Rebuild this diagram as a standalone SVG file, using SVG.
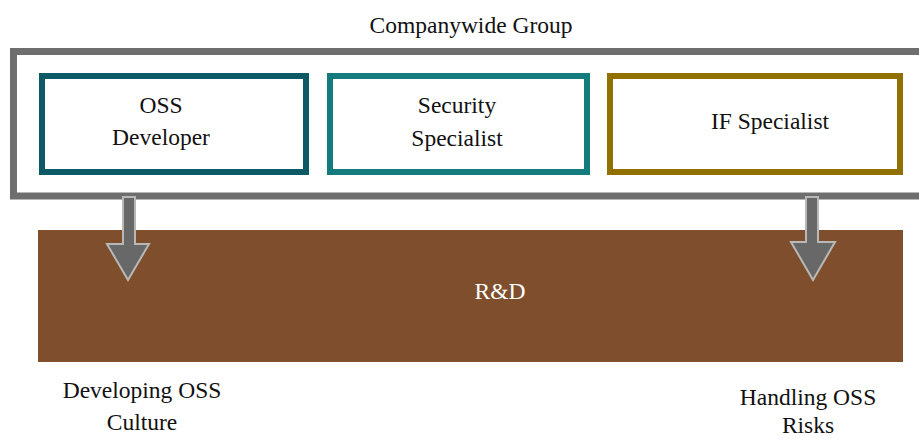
<svg xmlns="http://www.w3.org/2000/svg" width="919" height="439" viewBox="0 0 919 439">
<style>
text{font-family:'Liberation Serif','Times New Roman',Times,'DejaVu Serif',serif;font-size:23.5px;fill:#111;text-anchor:middle}
.box{fill:#fff;stroke-width:6}
.arrow{fill:#686868;stroke:#b8b8b8;stroke-width:2;stroke-linejoin:miter}
</style>
<rect width="919" height="439" fill="#fff"/>
<g id="companywide-group">
<rect x="13.5" y="51.5" width="920" height="144.5" fill="#fff" stroke="#6e6e6e" stroke-width="7"/>
<text x="471" y="33">Companywide Group</text>
</g>
<g id="oss-developer">
<rect class="box" x="42" y="76" width="264" height="96" stroke="#0b5a66"/>
<text x="161" y="113">OSS</text>
<text x="161" y="145">Developer</text>
</g>
<g id="security-specialist">
<rect class="box" x="330" y="76" width="257" height="96" stroke="#137b7b"/>
<text x="457" y="113">Security</text>
<text x="457" y="146">Specialist</text>
</g>
<g id="if-specialist">
<rect class="box" x="610" y="76" width="290" height="96" stroke="#8f7000"/>
<text x="770" y="129">IF Specialist</text>
</g>
<g id="rnd">
<rect x="38" y="230" width="865" height="132" fill="#7f4f2d"/>
<text x="500" y="299" style="fill:#fff">R&amp;D</text>
</g>
<g id="connectors">
<polygon class="arrow" points="123,197 135,197 135,244 149,244 128,280 107,244 123,244"/>
<polygon class="arrow" points="806,197 818,197 818,242 835,242 813,280 791,242 806,242"/>
</g>
<g id="outcome-culture">
<text x="142" y="398">Developing OSS</text>
<text x="142" y="430">Culture</text>
</g>
<g id="outcome-risks">
<text x="808" y="405">Handling OSS</text>
<text x="808" y="433">Risks</text>
</g>
</svg>
